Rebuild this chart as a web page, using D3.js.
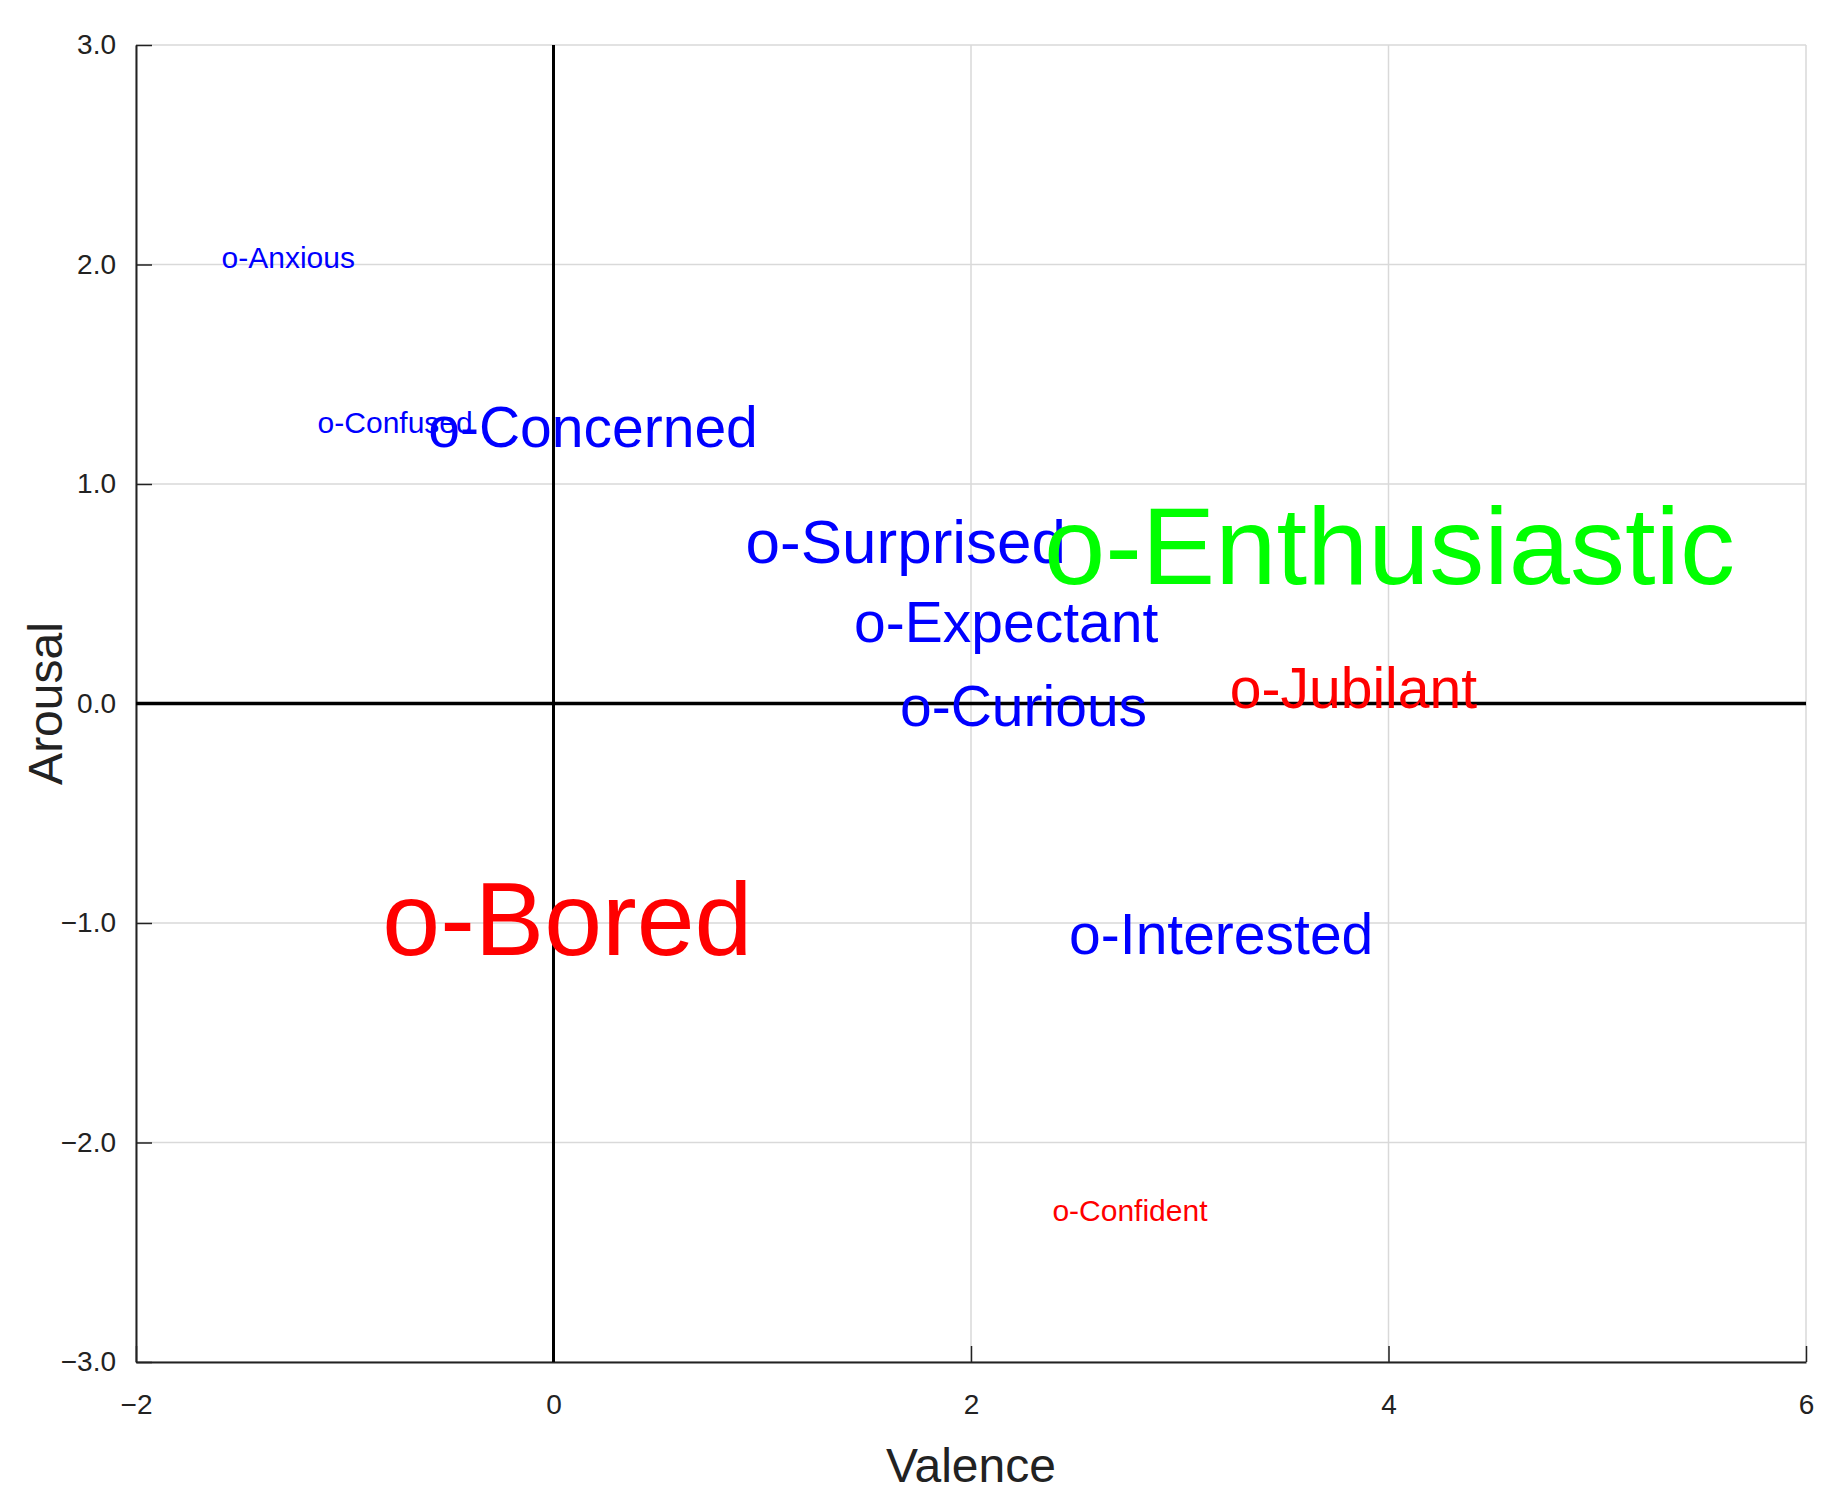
<!DOCTYPE html>
<html>
<head>
<meta charset="utf-8">
<script src="https://cdn.jsdelivr.net/npm/d3@7"></script>
<style>
  body { margin: 0; background: #fff; }
  text { font-family: "Liberation Sans", Arial, sans-serif; }
</style>
</head>
<body>
<svg width="1832" height="1488"></svg>
<script>
// emotion labels placed at (valence, arousal)
const labels = ["o-Anxious", "o-Confused", "o-Concerned", "o-Surprised", "o-Enthusiastic", "o-Expectant",
    "o-Curious", "o-Jubilant", "o-Bored", "o-Interested", "o-Confident"];
const valence = [-1.59, -1.13, -0.6, 0.92, 2.35, 1.44, 1.66, 3.24, -0.82, 2.47, 2.39];
const arousal = [2.03, 1.28, 1.26, 0.74, 0.72, 0.37, -0.01, 0.07, -0.98, -1.05, -2.31];
const sizes = [30, 30, 57, 62, 110, 57, 57, 57, 104, 57, 30];
const colors = ["blue", "blue", "blue", "blue", "#00ff00", "blue", "blue", "red", "red", "blue", "red"];
const xTicks = [-2, 0, 2, 4, 6];
const yTicks = [-3, -2, -1, 0, 1, 2, 3];

const svg = d3.select("svg");
const mLeft = 136, mRight = 1806, mTop = 45, mBottom = 1362;

const x = d3.scaleLinear().domain([-2, 6]).range([mLeft, mRight]);
const y = d3.scaleLinear().domain([-3, 3]).range([mBottom, mTop]);

// grid
svg.append("g").selectAll("line").data(xTicks).enter().append("line")
    .attr("x1", d => x(d)).attr("x2", d => x(d)).attr("y1", mTop).attr("y2", mBottom)
    .attr("stroke", "#d9d9d9").attr("stroke-width", 1.5);
svg.append("g").selectAll("line").data(yTicks).enter().append("line")
    .attr("y1", d => y(d)).attr("y2", d => y(d)).attr("x1", mLeft).attr("x2", mRight)
    .attr("stroke", "#d9d9d9").attr("stroke-width", 1.5);

// axes with inward ticks
const xAxis = svg.append("g").attr("transform", "translate(0," + mBottom + ")")
    .call(d3.axisBottom(x).tickValues(xTicks).tickSize(-16).tickPadding(32).tickSizeOuter(0));
const yAxis = svg.append("g").attr("transform", "translate(" + mLeft + ",0)")
    .call(d3.axisLeft(y).tickValues(yTicks).tickSize(-16).tickPadding(20).tickSizeOuter(0));
[xAxis, yAxis].forEach(a => {
    a.selectAll("path").attr("stroke", "#222").attr("stroke-width", 2);
    a.selectAll("line").attr("stroke", "#222").attr("stroke-width", 1.5);
    a.selectAll("text").attr("font-size", 28).attr("fill", "#222")
        .style("font-family", "Liberation Sans, Arial, sans-serif");
});

// zero lines
svg.append("line").attr("x1", x(0)).attr("x2", x(0)).attr("y1", mTop).attr("y2", mBottom)
    .attr("stroke", "black").attr("stroke-width", 3);
svg.append("line").attr("x1", mLeft).attr("x2", mRight).attr("y1", y(0)).attr("y2", y(0))
    .attr("stroke", "black").attr("stroke-width", 3.5);

// axis titles
svg.append("text").attr("x", (mLeft + mRight) / 2).attr("y", 1482).attr("text-anchor", "middle")
    .attr("font-size", 48).attr("fill", "#222").text("Valence");
svg.append("text").attr("transform", "translate(62," + (mTop + mBottom) / 2 + ") rotate(-90)")
    .attr("text-anchor", "middle").attr("font-size", 48).attr("fill", "#222").text("Arousal");

// labels
svg.append("g").selectAll("text").data(labels).enter().append("text")
    .attr("x", (d, i) => x(valence[i]))
    .attr("y", (d, i) => y(arousal[i]))
    .attr("dominant-baseline", "central")
    .attr("font-size", (d, i) => sizes[i])
    .attr("fill", (d, i) => colors[i])
    .text(d => d);
</script>
</body>
</html>
